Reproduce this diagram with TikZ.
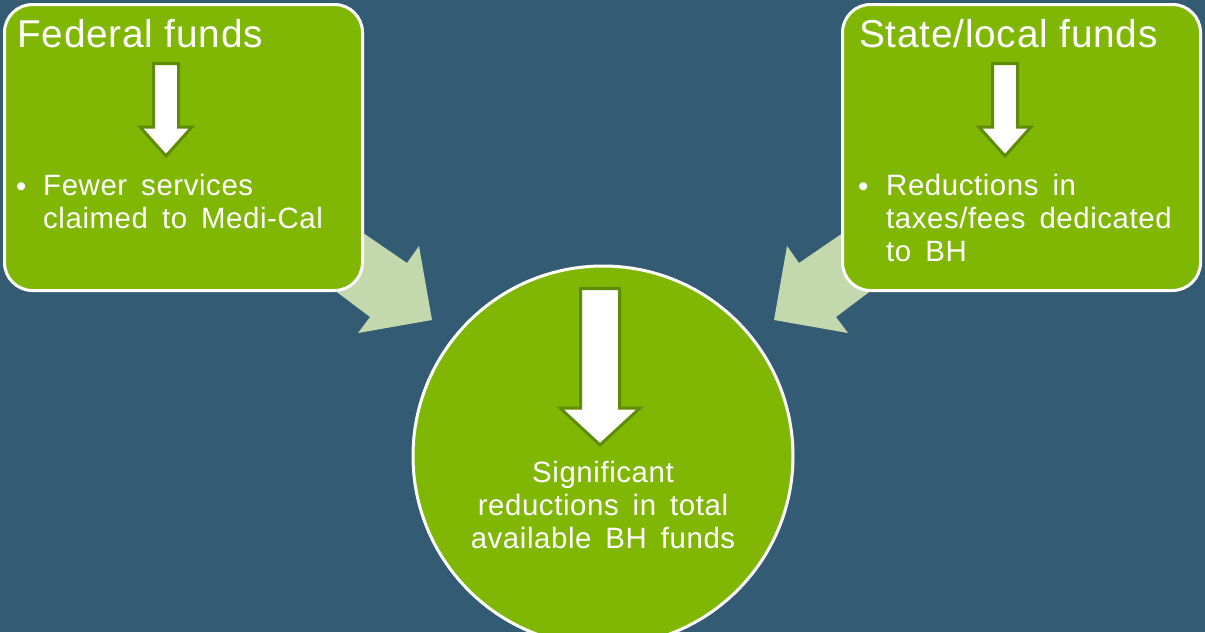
\documentclass[tikz,border=0pt]{standalone}
\usepackage{fontspec}
\setmainfont{Liberation Sans}[LetterSpace=2]
\newfontfamily\widefont{Liberation Sans}[LetterSpace=2, WordSpace=1.6]
\usepackage{xcolor}

\definecolor{slate}{HTML}{335B74}
\definecolor{leaf}{HTML}{80B705}
\definecolor{leafdark}{HTML}{5E8C06}
\definecolor{sage}{HTML}{C3D8AC}

\tikzset{
  fundbox/.style={draw=white, line width=3pt, fill=leaf, rounded corners=28pt, inner sep=0pt},
  totalcircle/.style={circle, draw=white, line width=3pt, fill=leaf, inner sep=0pt},
  droparrow/.style={draw=leafdark, line width=3pt, fill=white},
  feedarrow/.style={fill=sage},
  heading/.style={white, inner sep=0pt, font=\fontsize{38.8}{44}\selectfont},
  bodytext/.style={white, inner sep=0pt, align=left,
    font=\widefont\fontsize{29.4}{33}\selectfont},
}

% white block arrow pointing down: x, top, tip, shaft half width, head half width, head length
\newcommand\dropArrow[6]{%
  \draw[droparrow] (#1-#4,#2) -- (#1+#4,#2) -- (#1+#4,#3-#6) -- (#1+#5,#3-#6)
    -- (#1,#3) -- (#1-#5,#3-#6) -- (#1-#4,#3-#6) -- cycle;}

\begin{document}
\begin{tikzpicture}[x=1pt, y=-1pt]
  \useasboundingbox (0,0) rectangle (1205,632);
  \clip (0,0) rectangle (1205,632);
  \fill[slate] (0,0) rectangle (1205,632);

  % arrows feeding the circle (tails hidden under the boxes)
  \fill[feedarrow] (318,202) -- (407,263) -- (419,246) -- (432,320) -- (358,333)
    -- (370,317) -- (297,262) -- cycle;
  \fill[feedarrow] (888,202) -- (799,263) -- (787,246) -- (774,320) -- (848,333)
    -- (836,317) -- (909,262) -- cycle;

  % the two sources
  \node[fundbox, minimum width=358pt, minimum height=286pt, anchor=north west] (federal) at (3,3) {};
  \node[fundbox, minimum width=358pt, minimum height=286pt, anchor=north east] (statelocal) at (1202,3) {};

  % result
  \node[totalcircle, minimum size=380pt] (total) at (603,456) {};

  % Federal funds
  \node[heading, anchor=base west] (fedtitle) at (17,47) {Federal funds};
  \dropArrow{166}{63.5}{156}{12.5}{26}{29}
  \node[bodytext, anchor=base west] (fedbullet) at (16,196) {•};
  \node[bodytext, anchor=north west] (fedtext) at (43,174) {Fewer services\\claimed to Medi-Cal};

  % State/local funds
  \node[heading, anchor=base west] (statetitle) at (859,47) {State/local funds};
  \dropArrow{1005}{63.5}{156}{12.5}{26}{29}
  \node[bodytext, anchor=base west] (statebullet) at (858,196) {•};
  \node[bodytext, anchor=north west] (statetext) at (886,174) {Reductions in\\taxes/fees dedicated\\to BH};

  % Total
  \dropArrow{600}{288.5}{445}{19.5}{40}{37}
  \node[bodytext, align=center, anchor=north] (totaltext) at (603,461)
    {Significant\\reductions in total\\available BH funds};
\end{tikzpicture}
\end{document}
